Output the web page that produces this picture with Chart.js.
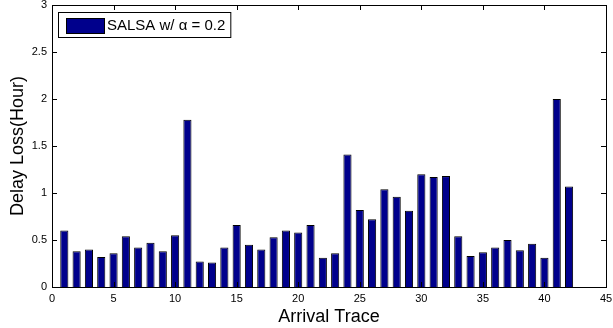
<!DOCTYPE html>
<html lang="en">
    <head>
        <meta charset="UTF-8" />
        <title>Delay Loss</title>
        <script src="https://cdn.jsdelivr.net/npm/chart.js"></script>
        <style>
            html, body { margin: 0; padding: 0; background: #fff; }
        </style>
    </head>
    <body>
        <canvas id="myChart" width="613" height="328"></canvas>

        <script>
            // data
            const traces = [1, 2, 3, 4, 5, 6, 7, 8, 9, 10, 11, 12, 13, 14, 15, 16, 17, 18, 19, 20, 21,
                22, 23, 24, 25, 26, 27, 28, 29, 30, 31, 32, 33, 34, 35, 36, 37, 38, 39, 40, 41, 42];
            const delayLoss = [0.60, 0.38, 0.40, 0.32, 0.36, 0.54, 0.42, 0.47, 0.38, 0.55, 1.78,
                0.27, 0.26, 0.42, 0.66, 0.45, 0.40, 0.53, 0.60, 0.58, 0.66,
                0.31, 0.36, 1.41, 0.82, 0.72, 1.04, 0.96, 0.81, 1.20, 1.17,
                1.18, 0.54, 0.33, 0.37, 0.42, 0.50, 0.39, 0.46, 0.31, 2.00, 1.07];
            const xTicks = [0, 5, 10, 15, 20, 25, 30, 35, 40, 45];
            const yTicks = [0, 0.5, 1, 1.5, 2, 2.5, 3];
            const seriesLabel = "SALSA w/ \u03b1 = 0.2";

            const fontFamily = "'Liberation Sans', Arial, sans-serif";

            // MATLAB-like box with inward ticks and a framed legend
            const matlabBox = {
                id: "matlabBox",
                afterDatasetsDraw(chart) {
                    const { ctx, chartArea: a, scales } = chart;
                    ctx.save();
                    ctx.strokeStyle = "#000";
                    ctx.lineWidth = 1;
                    ctx.beginPath();
                    xTicks.forEach((v) => {
                        const px = Math.round(scales.x.getPixelForValue(v)) + 0.5;
                        ctx.moveTo(px, a.bottom);
                        ctx.lineTo(px, a.bottom - 5);
                        ctx.moveTo(px, a.top);
                        ctx.lineTo(px, a.top + 5);
                    });
                    yTicks.forEach((v) => {
                        const py = Math.round(scales.y.getPixelForValue(v)) + 0.5;
                        ctx.moveTo(a.left, py);
                        ctx.lineTo(a.left + 5, py);
                        ctx.moveTo(a.right, py);
                        ctx.lineTo(a.right - 5, py);
                    });
                    ctx.stroke();
                    ctx.strokeRect(Math.round(a.left) + 0.5, Math.round(a.top) + 0.5,
                        Math.round(a.right - a.left), Math.round(a.bottom - a.top));

                    // legend
                    const ds = chart.data.datasets[0];
                    const lx = Math.round(a.left) + 6, ly = Math.round(a.top) + 7;
                    ctx.font = "15px " + fontFamily;
                    const tw = ctx.measureText(ds.label).width;
                    const w = 8 + 38 + 3 + tw + 5, h = 25;
                    ctx.fillStyle = "#fff";
                    ctx.fillRect(lx, ly, w, h);
                    ctx.strokeRect(lx + 0.5, ly + 0.5, w, h);
                    ctx.fillStyle = ds.backgroundColor;
                    ctx.fillRect(lx + 8, ly + 6, 38, 15);
                    ctx.strokeRect(lx + 8.5, ly + 6.5, 38, 15);
                    ctx.fillStyle = "#000";
                    ctx.textBaseline = "middle";
                    ctx.fillText(ds.label, lx + 49, ly + 14);
                    ctx.restore();
                },
            };

            var ctx = document.getElementById("myChart").getContext("2d");
            var myChart = new Chart(ctx, {
                type: "bar",
                data: {
                    datasets: [
                        {
                            label: seriesLabel,
                            data: traces.map((t, i) => ({ x: t, y: delayLoss[i] })),
                            backgroundColor: "#00008c",
                            borderColor: "#000",
                            borderWidth: 1,
                            barPercentage: 0.66,
                            categoryPercentage: 1,
                        },
                    ],
                },
                options: {
                    responsive: false,
                    animation: false,
                    layout: { padding: { top: 5, right: 7, left: 0, bottom: 0 } },
                    scales: {
                        x: {
                            type: "linear",
                            min: 0,
                            max: 45,
                            offset: false,
                            grid: { display: false, drawTicks: false },
                            border: { display: false },
                            afterBuildTicks: (s) => { s.ticks = xTicks.map((v) => ({ value: v })); },
                            afterFit: (s) => {
                                s.height = 41;
                                s.paddingLeft = 0;
                                s.paddingRight = 0;
                            },
                            ticks: {
                                color: "#000",
                                padding: 5,
                                maxRotation: 0,
                                font: { family: fontFamily, size: 11 },
                            },
                            title: {
                                display: true,
                                text: "Arrival Trace",
                                color: "#000",
                                padding: { top: 0, bottom: 0 },
                                font: { family: fontFamily, size: 18 },
                            },
                        },
                        y: {
                            min: 0,
                            max: 3,
                            grid: { display: false, drawTicks: false },
                            border: { display: false },
                            afterBuildTicks: (s) => { s.ticks = yTicks.map((v) => ({ value: v })); },
                            afterFit: (s) => {
                                s.width = 52;
                                s.paddingTop = 0;
                                s.paddingBottom = 0;
                            },
                            ticks: {
                                color: "#000",
                                padding: 5,
                                font: { family: fontFamily, size: 11 },
                                callback: (v) => String(v),
                            },
                            title: {
                                display: true,
                                text: "Delay Loss(Hour)",
                                color: "#000",
                                padding: { top: 7, bottom: 0 },
                                font: { family: fontFamily, size: 18 },
                            },
                        },
                    },
                    plugins: {
                        legend: { display: false },
                        tooltip: { enabled: false },
                    },
                },
                plugins: [matlabBox],
            });
        </script>
    </body>
</html>
